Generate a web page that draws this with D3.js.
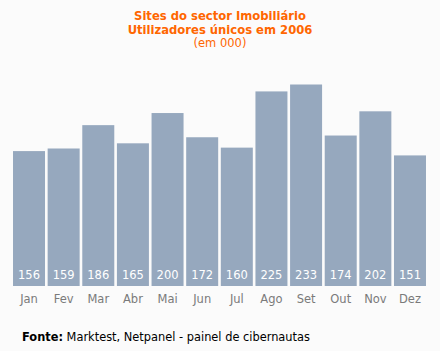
<!DOCTYPE html>
<html lang="pt">
<head>
<meta charset="utf-8">
<script src="https://cdn.jsdelivr.net/npm/d3@7"></script>
<style>
  body { margin: 0; background: #fbfbfb; }
  text { font-family: "DejaVu Sans", Verdana, sans-serif; }
</style>
</head>
<body>
<script>
var months = ["Jan","Fev","Mar","Abr","Mai","Jun","Jul","Ago","Set","Out","Nov","Dez"];
var users = [156,159,186,165,200,172,160,225,233,174,202,151];
var titleLines = ["Sites do sector Imobiliário", "Utilizadores únicos em 2006"];
var subtitle = "(em 000)";

var w = 440, h = 351;

var svg = d3.select("body").append("svg")
  .attr("width", w).attr("height", h);

svg.append("rect").attr("width", w).attr("height", h).attr("fill", "#fbfbfb");

var xScale = d3.scaleBand()
  .domain(months)
  .range([11.7, 427.3])
  .paddingInner(0.076)
  .paddingOuter(0.038);

var yScale = d3.scaleLinear()
  .domain([0, 233])
  .range([286, 84.5]);

// bars
svg.selectAll("rect.bar")
  .data(users)
  .enter()
  .append("rect")
  .attr("class", "bar")
  .attr("x", function(d, i) { return xScale(months[i]); })
  .attr("y", function(d) { return yScale(d); })
  .attr("width", xScale.bandwidth())
  .attr("height", function(d) { return yScale(0) - yScale(d); })
  .attr("fill", "#96a8be");

// value labels
svg.selectAll("text.val")
  .data(users)
  .enter()
  .append("text")
  .attr("class", "val")
  .attr("x", function(d, i) { return xScale(months[i]) + xScale.bandwidth() / 2; })
  .attr("y", 279)
  .attr("text-anchor", "middle")
  .attr("font-size", "11.5px")
  .attr("fill", "#ffffff")
  .text(function(d) { return d; });

// month axis
var xAxis = d3.axisBottom(xScale).tickSize(0).tickPadding(9);
var gx = svg.append("g")
  .attr("transform", "translate(0,286)")
  .call(xAxis);
gx.select(".domain").remove();
gx.selectAll("text")
  .attr("font-size", "11.5px")
  .attr("font-family", "DejaVu Sans, Verdana, sans-serif")
  .attr("fill", "#7a7a7a");

// title
svg.selectAll("text.title")
  .data(titleLines)
  .enter()
  .append("text")
  .attr("class", "title")
  .attr("x", 220)
  .attr("y", function(d, i) { return 20 + i * 14; })
  .attr("text-anchor", "middle")
  .attr("font-size", "11.6px")
  .attr("font-weight", "bold")
  .attr("fill", "#ff6600")
  .text(function(d) { return d; });

svg.append("text")
  .attr("x", 220)
  .attr("y", 47)
  .attr("text-anchor", "middle")
  .attr("font-size", "11.5px")
  .attr("fill", "#ff6600")
  .text(subtitle);

// source
var src = svg.append("text")
  .attr("x", 22)
  .attr("y", 341)
  .attr("font-size", "11.4px")
  .attr("fill", "#000");
src.append("tspan").attr("font-weight", "bold").text("Fonte:");
src.append("tspan").text(" Marktest, Netpanel - painel de cibernautas");
</script>
</body>
</html>
